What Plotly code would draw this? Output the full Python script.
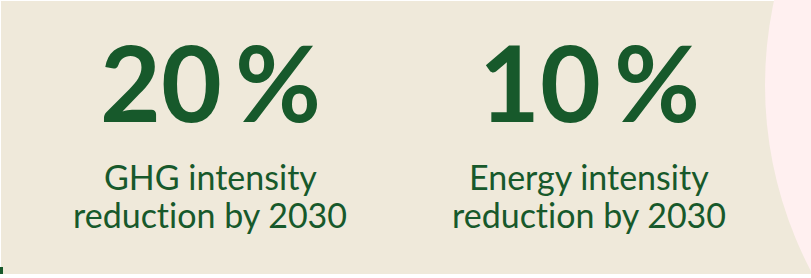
import plotly.graph_objects as go

# Data
values = [20, 10]
value_labels = [f"{v}\u2009%" for v in values]
caption_line1 = ["GHG intensity", "Energy intensity"]
caption_line2 = ["reduction by 2030", "reduction by 2030"]
centers_x = [210, 589]

W, H = 811, 278
green = "#17592B"
beige = "#EFE9DA"
pink = "#FFF0F0"


def no_lig(s):
    # break the "ti" ligature
    return s.replace("ti", "t\u200ci")


fig = go.Figure()
fig.add_trace(go.Scatter(x=[0], y=[0], mode="markers", marker=dict(opacity=0), hoverinfo="skip", showlegend=False))

shapes = [
    dict(type="rect", xref="x", yref="y", x0=1, x1=W, y0=1, y1=274, fillcolor=beige, line=dict(width=0), layer="below"),
    dict(type="circle", xref="x", yref="y", x0=765, x1=1565, y0=85 - 400, y1=85 + 400, fillcolor=pink, line=dict(width=0), layer="below"),
    dict(type="rect", xref="x", yref="y", x0=0, x1=3, y0=267, y1=274, fillcolor=green, line=dict(width=0), layer="below"),
]

annotations = []
for cx, vl, l1, l2 in zip(centers_x, value_labels, caption_line1, caption_line2):
    annotations.append(dict(x=cx, y=81, xref="x", yref="y", text=f"<b>{vl}</b>", showarrow=False,
                            font=dict(family="Lato", size=105, color=green), xanchor="center", yanchor="middle"))
    annotations.append(dict(x=cx, y=176, xref="x", yref="y", text=no_lig(l1), showarrow=False,
                            font=dict(family="Lato", size=34, color=green), xanchor="center", yanchor="middle"))
    annotations.append(dict(x=cx, y=214, xref="x", yref="y", text=no_lig(l2), showarrow=False,
                            font=dict(family="Lato", size=34, color=green), xanchor="center", yanchor="middle"))

fig.update_layout(
    width=W, height=H, margin=dict(l=0, r=0, t=0, b=0),
    paper_bgcolor="white", plot_bgcolor="white",
    xaxis=dict(range=[0, W], visible=False, fixedrange=True),
    yaxis=dict(range=[H, 0], visible=False, fixedrange=True),
    shapes=shapes, annotations=annotations, showlegend=False,
)
fig.write_html("out.html", post_script="document.body.style.margin='0';document.body.style.overflow='hidden';",
               config={"displayModeBar": False})
